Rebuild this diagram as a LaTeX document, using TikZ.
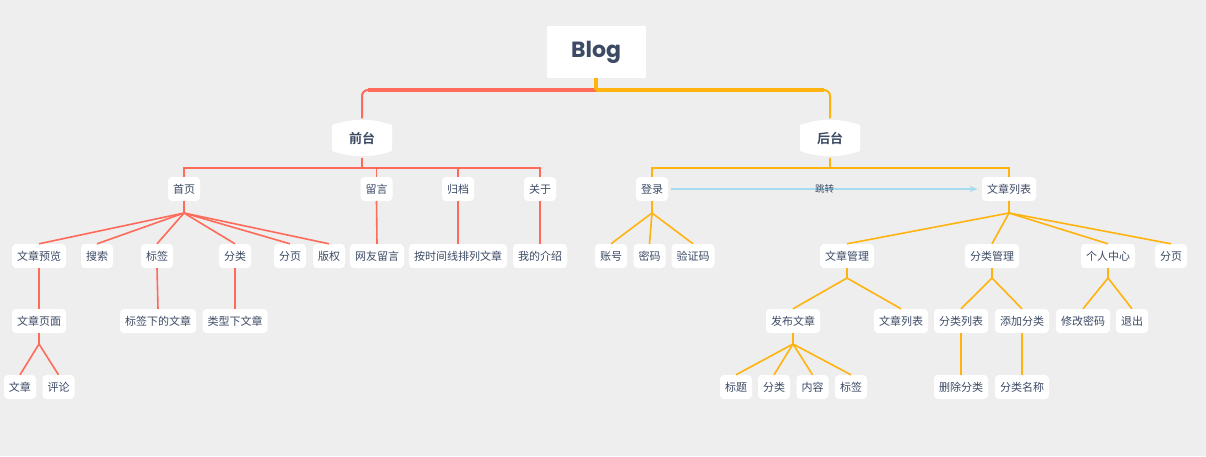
\documentclass[tikz,border=0pt]{standalone}
\usepackage{fontspec}
\newfontfamily\cjk{Noto Sans CJK SC}[BoldFont={Noto Sans CJK SC Bold}]
\newfontfamily\logofont{Poppins}
\usetikzlibrary{arrows.meta}
\definecolor{bgcol}{HTML}{EEEEEE}
\definecolor{ink}{HTML}{3C4A64}
\definecolor{redl}{HTML}{FF6B5B}
\definecolor{orgl}{HTML}{FFB30F}
\definecolor{jumpl}{HTML}{A6DCEF}
\tikzset{
  stagebg/.pic={\fill[white] (-30,-13) .. controls (-10,-20) and (10,-20) .. (30,-13)
    -- (30,13) .. controls (10,20) and (-10,20) .. (-30,13) -- cycle;},
  leaf/.style={fill=white, rounded corners=4, text=ink, font=\cjk\fontsize{11}{13}\selectfont,
    inner xsep=5, inner ysep=0, minimum height=24},
  stage/.style={text=ink, font=\cjk\bfseries\fontsize{13}{15}\selectfont, minimum width=60, minimum height=39},
  rl/.style={draw=redl, line width=1.6},
  ol/.style={draw=orgl, line width=1.6}
}
\begin{document}
\begin{tikzpicture}[x=1pt, y=-1pt, >=Stealth]
  \useasboundingbox (0,0) rectangle (1206,456);
  \fill[bgcol] (0,0) rectangle (1206,456);

  % Wurzel
  \node[fill=white, minimum width=99, minimum height=52, text=ink,
    font=\logofont\bfseries\fontsize{22}{26}\selectfont] (blog) at (596,52) {Blog};

  % Front / Back
  \pic at (362,138) {stagebg};
  \node[stage] (front) at (362,138) {前台};
  \pic at (830,138) {stagebg};
  \node[stage] (back) at (830,138) {后台};

  \coordinate (bj) at (596,90);
  \draw[redl, line width=2, rounded corners=6] (bj) -| (front.north);
  \draw[redl, line width=4] (bj) -- ([xshift=6]bj -| front.north);
  \draw[orgl, line width=2, rounded corners=6] (bj) -| (back.north);
  \draw[orgl, line width=4] (bj) -- ([xshift=-6]bj -| back.north);
  \draw[orgl, line width=4] (blog.south) -- (bj);

  % Ebene 2
  \node[leaf] (home) at (184,189) {首页};
  \node[leaf] (msg) at (376.5,189) {留言};
  \node[leaf] (archive) at (458,189) {归档};
  \node[leaf] (about) at (540,189) {关于};
  \node[leaf] (login) at (652,189) {登录};
  \node[leaf] (artlist) at (1009,189) {文章列表};

  \coordinate (fj) at (362,168);
  \foreach \n in {home,msg,archive,about}
    \draw[rl] (front.south) -- (fj) -| (\n.north);
  \coordinate (kj) at (830,168);
  \foreach \n in {login,artlist}
    \draw[ol] (back.south) -- (kj) -| (\n.north);

  \draw[->, jumpl, line width=1.2] ([xshift=3]login.east) -- ([xshift=-4]artlist.west)
    node[midway, text=ink, font=\cjk\fontsize{9.5}{11}\selectfont] {跳转};

  % Ebene 3
  \node[leaf] (prev) at (39,256) {文章预览};
  \node[leaf] (search) at (97,256) {搜索};
  \node[leaf] (tag) at (157,256) {标签};
  \node[leaf] (cat) at (235,256) {分类};
  \node[leaf] (page) at (290,256) {分页};
  \node[leaf] (copy) at (329,256) {版权};
  \node[leaf] (guest) at (377,256) {网友留言};
  \node[leaf] (timeline) at (458,256) {按时间线排列文章};
  \node[leaf] (intro) at (540,256) {我的介绍};
  \node[leaf] (acc) at (611,256) {账号};
  \node[leaf] (pwd) at (649.5,256) {密码};
  \node[leaf] (code) at (693,256) {验证码};
  \node[leaf] (artmgr) at (847,256) {文章管理};
  \node[leaf] (catmgr) at (992,256) {分类管理};
  \node[leaf] (center) at (1108,256) {个人中心};
  \node[leaf] (bpage) at (1171,256) {分页};

  \coordinate (hj) at (184,213);
  \foreach \n in {prev,search,tag,cat,page,copy}
    \draw[rl] (home.south) -- (hj) -- (\n.north);
  \draw[rl] (msg.south) -- (guest.north);
  \draw[rl] (archive.south) -- (timeline.north);
  \draw[rl] (about.south) -- (intro.north);
  \coordinate (lj) at (652,213);
  \foreach \n in {acc,pwd,code}
    \draw[ol] (login.south) -- (lj) -- (\n.north);
  \coordinate (aj) at (1009,213);
  \foreach \n in {artmgr,catmgr,center,bpage}
    \draw[ol] (artlist.south) -- (aj) -- (\n.north);

  % Ebene 4
  \node[leaf] (artpage) at (39,321) {文章页面};
  \node[leaf] (tagart) at (158,321) {标签下的文章};
  \node[leaf] (typeart) at (235,321) {类型下文章};
  \node[leaf] (publish) at (793,321) {发布文章};
  \node[leaf] (artlist2) at (901,321) {文章列表};
  \node[leaf] (catlist) at (961,321) {分类列表};
  \node[leaf] (addcat) at (1022,321) {添加分类};
  \node[leaf] (chpwd) at (1083,321) {修改密码};
  \node[leaf] (logout) at (1132,321) {退出};

  \draw[rl] (prev.south) -- (artpage.north);
  \draw[rl] (tag.south) -- (tagart.north);
  \draw[rl] (cat.south) -- (typeart.north);
  \coordinate (mj) at (847,278);
  \foreach \n in {publish,artlist2}
    \draw[ol] (artmgr.south) -- (mj) -- (\n.north);
  \coordinate (cj) at (992,278);
  \foreach \n in {catlist,addcat}
    \draw[ol] (catmgr.south) -- (cj) -- (\n.north);
  \coordinate (pj) at (1108,278);
  \foreach \n in {chpwd,logout}
    \draw[ol] (center.south) -- (pj) -- (\n.north);

  % Ebene 5
  \node[leaf] (art) at (20,387) {文章};
  \node[leaf] (comment) at (58.5,387) {评论};
  \node[leaf] (title) at (736,387) {标题};
  \node[leaf] (pcat) at (774,387) {分类};
  \node[leaf] (content) at (812.5,387) {内容};
  \node[leaf] (ptag) at (851,387) {标签};
  \node[leaf] (delcat) at (961,387) {删除分类};
  \node[leaf] (catname) at (1022,387) {分类名称};

  \coordinate (vj) at (39,344);
  \foreach \n in {art,comment}
    \draw[rl] (artpage.south) -- (vj) -- (\n.north);
  \coordinate (uj) at (793,344);
  \foreach \n in {title,pcat,content,ptag}
    \draw[ol] (publish.south) -- (uj) -- (\n.north);
  \draw[ol] (catlist.south) -- (delcat.north);
  \draw[ol] (addcat.south) -- (catname.north);
\end{tikzpicture}
\end{document}
